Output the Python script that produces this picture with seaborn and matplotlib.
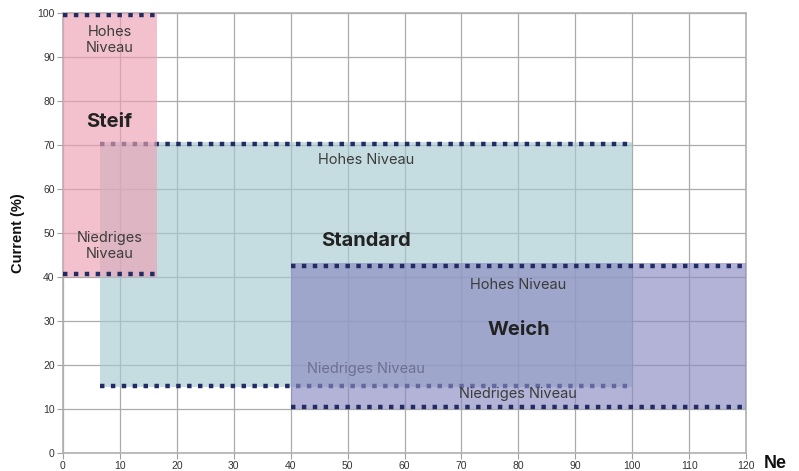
import matplotlib
matplotlib.use("Agg")
import matplotlib.pyplot as plt
import seaborn as sns
import numpy as np

# zone data (drawing order: Standard, Steif, Weich)
zones = ["Standard", "Steif", "Weich"]
x_start = [6.5, 0, 40]
x_end = [100, 16.5, 120]
y_low = [15, 40, 10]
y_high = [70.7, 100, 43.2]
line_low = [15.2, 40.7, 10.4]
line_high = [70.3, 99.6, 42.6]
fills = ["#a6cbd0", "#eca0b2", "#898ac0"]

# annotation labels
labels = [
    ("Hohes\nNiveau", 8.2, 93.8, "Steif"),
    ("Niedriges\nNiveau", 8.2, 47.0, "Steif"),
    ("Hohes Niveau", 53.2, 66.6, "Standard"),
    ("Niedriges Niveau", 53.2, 19.1, "Standard"),
    ("Hohes Niveau", 80.0, 38.2, "Weich"),
    ("Niedriges Niveau", 80.0, 13.4, "Weich"),
]
titles = [("Steif", 8.2, 75.3), ("Standard", 53.2, 48.2), ("Weich", 80.0, 28.0)]

sns.set_theme(style="whitegrid")
plt.rcParams["font.family"] = ["Inter", "DejaVu Sans"]

fig = plt.figure(figsize=(7.99, 4.71), dpi=100)
ax = fig.add_axes([63 / 799, 1 - 453 / 471, (746 - 63) / 799, (453 - 13) / 471])

ax.set_xlim(0, 120)
ax.set_ylim(0, 100)
ax.set_xticks(np.arange(0, 121, 10))
ax.set_yticks(np.arange(0, 101, 10))
ax.grid(True, color="#ababab", linewidth=0.9)
ax.set_axisbelow(True)
for s in ax.spines.values():
    s.set_color("#b0b0b0")
    s.set_linewidth(1.2)
ax.tick_params(axis="both", labelsize=7.5, labelcolor="#333333", length=4,
               color="#a0a0a0", width=0.8, pad=2, left=True, bottom=True)
for lab in ax.get_xticklabels() + ax.get_yticklabels():
    lab.set_family(["Liberation Sans Narrow", "Liberation Sans", "DejaVu Sans"])

z = {}
for i, name in enumerate(zones):
    base = 1 + i * 2
    z[name] = base
    ax.fill_between([x_start[i], x_end[i]], y_low[i], y_high[i],
                    color=fills[i], alpha=0.65, linewidth=0, zorder=base)
    for lv in (line_low[i], line_high[i]):
        ax.plot([x_start[i], x_end[i]], [lv, lv], color="#222b63",
                linewidth=3.2, linestyle=(0, (1.0, 1.45)),
                dash_capstyle="butt", zorder=base + 0.5)

for txt, x, y, zone in labels:
    ax.text(x, y, txt, ha="center", va="center", fontsize=10.5,
            color="#3c3c3c", linespacing=1.15, zorder=z[zone] + 0.7)

for txt, x, y in titles:
    ax.text(x, y, txt, ha="center", va="center", fontsize=14.5,
            fontweight="bold", color="#222222", zorder=10)

fig.text(18 / 799, 1 - 233 / 471, "Current (%)", rotation=90, ha="center",
         va="center", fontsize=10.5, fontweight="bold", color="#111111",
         family=["Liberation Sans Narrow", "Liberation Sans"])
fig.text(775 / 799, 1 - 463 / 471, "Ne", ha="center", va="center",
         fontsize=13, fontweight="bold", color="#111111",
         family=["Liberation Sans Narrow", "Liberation Sans"])

fig.savefig("out.png", dpi=100)
